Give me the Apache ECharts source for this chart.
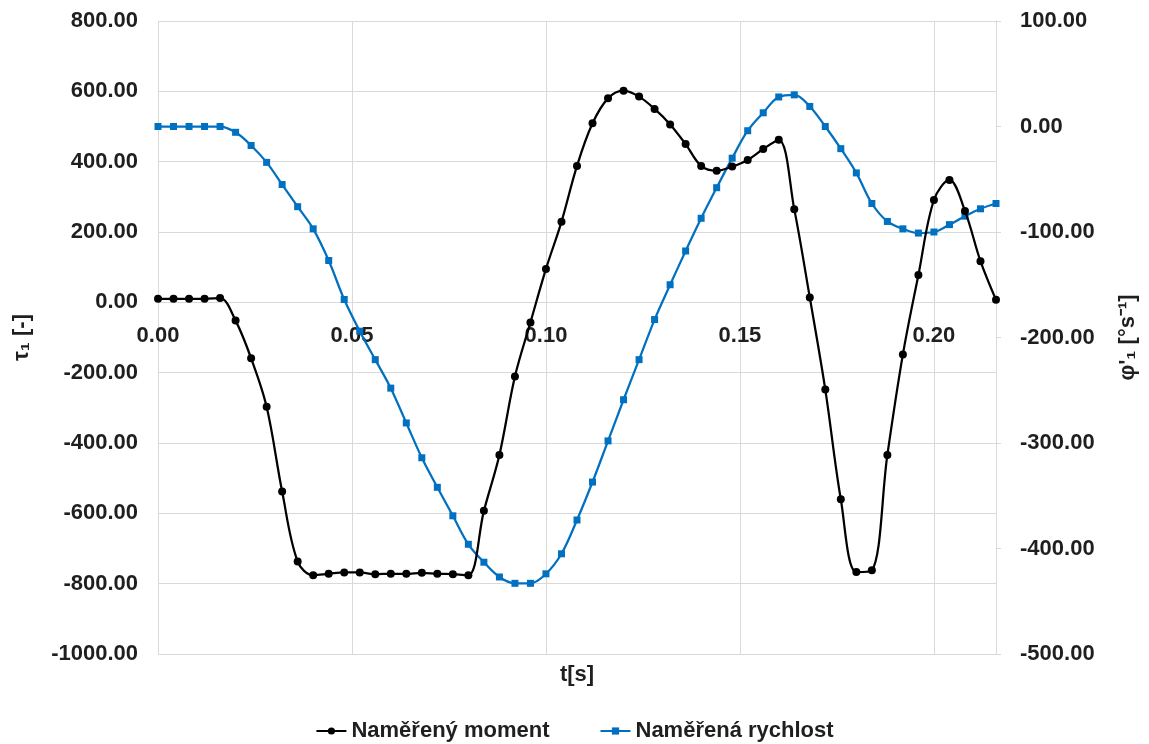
<!DOCTYPE html>
<html>
<head>
<meta charset="utf-8">
<script src="https://cdn.jsdelivr.net/npm/echarts@6/dist/echarts.min.js"></script>
<style>
html,body{margin:0;padding:0;background:#fff;}
#chart{width:1149px;height:744px;}
</style>
</head>
<body>
<div id="chart"></div>
<script>
// time [s]
const time = [0.000,0.004,0.008,0.012,0.016,0.020,0.024,0.028,0.032,0.036,
  0.040,0.044,0.048,0.052,0.056,0.060,0.064,0.068,0.072,0.076,
  0.080,0.084,0.088,0.092,0.096,0.100,0.104,0.108,0.112,0.116,
  0.120,0.124,0.128,0.132,0.136,0.140,0.144,0.148,0.152,0.156,
  0.160,0.164,0.168,0.172,0.176,0.180,0.184,0.188,0.192,0.196,
  0.200,0.204,0.208,0.212,0.216];
// Naměřený moment (left axis)
const moment = [10,10,10,10,12,-52,-159,-297,-538,-737,
  -776,-772,-768,-768,-773,-772,-772,-769,-772,-773,
  -776,-593,-434,-211,-57,95,229,388,509,580,
  602,585,550,506,450,388,374,386,405,436,
  462,265,14,-248,-560,-767,-762,-434,-148,78,
  291,348,260,117,7];
// Naměřená rychlost (right axis)
const speed = [0,0,0,0,0,-5.5,-18,-34,-55,-76,
  -97,-127,-164,-194,-221,-248,-281,-314,-342,-369,
  -396,-413,-427,-433,-433,-424,-405,-373,-337,-298,
  -259,-221,-183,-150,-118,-87,-58,-30,-4,13,
  28,30,19,0,-21,-44,-73,-90,-97,-101,
  -100,-93,-85,-78,-73];
const seriesNames = ['Naměřený moment', 'Naměřená rychlost'];
const xTitle = 't[s]';
const yLeftTitle = 'τ₁ [-]';
const yRightTitle = 'φ\'₁ [°s⁻¹]';

const FONT = 'Liberation Sans';
const TXT = '#1f1f1f';
const labelStyle = {fontFamily: FONT, fontWeight: 'bold', fontSize: 22, color: TXT};

const chart = echarts.init(document.getElementById('chart'), null, {renderer: 'canvas'});
chart.setOption({
  animation: false,
  backgroundColor: '#ffffff',
  grid: {left: 158, right: 153, top: 21, bottom: 90, outerBoundsMode: 'none', containLabel: false},
  legend: {
    data: seriesNames,
    left: 'center',
    top: 715,
    itemWidth: 30,
    itemHeight: 9,
    itemGap: 50,
    textStyle: labelStyle
  },
  graphic: [{
    type: 'text', x: 577, y: 675,
    style: {text: xTitle, textAlign: 'center', textVerticalAlign: 'middle',
      font: 'bold 22px "Liberation Sans"', fill: TXT}
  }],
  xAxis: {
    type: 'value', min: 0, max: 0.216, interval: 0.05,
    axisLine: {show: false, onZero: false},
    axisTick: {show: false},
    // labels sit just under the zero line of the left axis (as in the reference)
    axisLabel: Object.assign({inside: true, margin: 307, showMaxLabel: false, formatter: v => v.toFixed(2)}, labelStyle),
    splitLine: {show: true, lineStyle: {color: '#d9d9d9', width: 1}}
  },
  yAxis: [{
    type: 'value', min: -1000, max: 800, interval: 200, position: 'left',
    name: yLeftTitle, nameLocation: 'middle', nameRotate: 90, nameGap: 125,
    nameMoveOverlap: false,
    nameTextStyle: {fontFamily: FONT, fontWeight: 'bold', fontSize: 22, color: TXT},
    axisLine: {show: false},
    axisTick: {show: false},
    axisLabel: Object.assign({margin: 20, formatter: v => v.toFixed(2)}, labelStyle),
    splitLine: {show: true, lineStyle: {color: '#d9d9d9', width: 1}}
  }, {
    type: 'value', min: -500, max: 100, interval: 100, position: 'right',
    name: yRightTitle, nameLocation: 'middle', nameRotate: 90, nameGap: 121,
    nameMoveOverlap: false,
    nameTextStyle: {fontFamily: FONT, fontWeight: 'bold', fontSize: 22, color: TXT},
    axisLine: {show: true, lineStyle: {color: '#d9d9d9', width: 1}},
    axisTick: {show: true, inside: false, length: 5, lineStyle: {color: '#d9d9d9'}},
    axisLabel: Object.assign({margin: 24, formatter: v => v.toFixed(2)}, labelStyle),
    splitLine: {show: false}
  }],
  series: [{
    name: seriesNames[0], type: 'line', yAxisIndex: 0,
    data: time.map((t, i) => [t, moment[i]]),
    smooth: 0.35,
    symbol: 'circle', symbolSize: 8,
    lineStyle: {color: '#000000', width: 2.25},
    itemStyle: {color: '#000000'},
    z: 3
  }, {
    name: seriesNames[1], type: 'line', yAxisIndex: 1,
    data: time.map((t, i) => [t, speed[i]]),
    smooth: 0.35,
    symbol: 'rect', symbolSize: 7,
    lineStyle: {color: '#0070C0', width: 2.25},
    itemStyle: {color: '#0070C0'},
    z: 2
  }]
});
</script>
</body>
</html>
